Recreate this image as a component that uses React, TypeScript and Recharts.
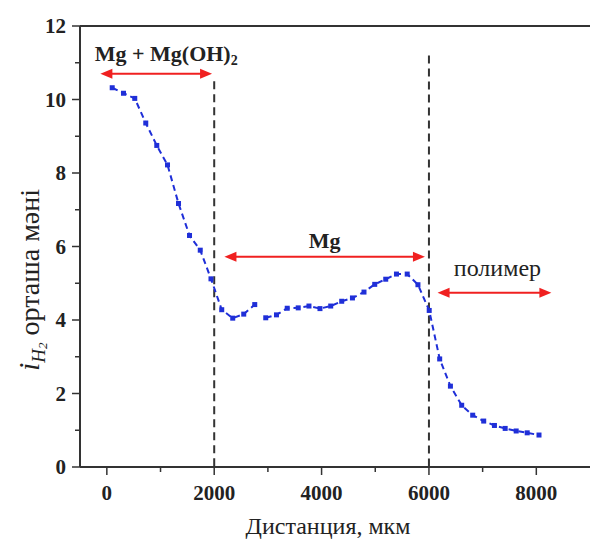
import { LineChart, Line, XAxis, YAxis, ReferenceLine, Label } from "recharts";

// distance, мкм
const distance = [
  100, 310, 520, 725, 930, 1130, 1335, 1540, 1740, 1940, 2140, 2345, 2550, 2755,
  2860, 2960, 3160, 3360, 3565, 3765, 3970, 4170, 4375, 4575, 4790, 4990, 5195,
  5395, 5595, 5795, 6005, 6200, 6400, 6610, 6815, 7020, 7220, 7420, 7625, 7830, 8050,
];
// mean i_H2 (null = break in the curve)
const current = [
  10.32, 10.17, 10.03, 9.36, 8.75, 8.22, 7.17, 6.3, 5.9, 5.12, 4.28, 4.05, 4.16, 4.42,
  null, 4.06, 4.14, 4.32, 4.33, 4.38, 4.31, 4.38, 4.51, 4.6, 4.76, 4.97, 5.11,
  5.25, 5.25, 4.96, 4.26, 2.94, 2.2, 1.68, 1.41, 1.25, 1.13, 1.05, 0.98, 0.93, 0.87,
];

const xTicks = [0, 1000, 2000, 3000, 4000, 5000, 6000, 7000, 8000];
const yTicks = [0, 1, 2, 3, 4, 5, 6, 7, 8, 9, 10, 11, 12];

const data = distance.map((d, i) => ({ d, v: current[i] }));

const SERIF = { fontFamily: "'Liberation Serif', 'Times New Roman', serif" };
const AXIS = "#333";
const BLUE = "#1f2fd8";
const RED = "#f02020";

function XTick({ x, y, payload }: any) {
  const major = payload.value % 2000 === 0;
  return (
    <g>
      <line x1={x} x2={x} y1={y} y2={y + (major ? 8 : 5)} stroke={AXIS} strokeWidth={1.5} />
      {major && (
        <text x={x} y={y + 33} textAnchor="middle" style={SERIF} fontWeight="bold" fontSize={21} fill="#222">
          {payload.value}
        </text>
      )}
    </g>
  );
}

function YTick({ x, y, payload }: any) {
  const major = payload.value % 2 === 0;
  return (
    <g>
      <line x1={x} x2={x - (major ? 8 : 5)} y1={y} y2={y} stroke={AXIS} strokeWidth={1.5} />
      {major && (
        <text x={x - 14} y={y + 7} textAnchor="end" style={SERIF} fontWeight="bold" fontSize={21} fill="#222">
          {payload.value}
        </text>
      )}
    </g>
  );
}

function SquareDot({ cx, cy, value }: any) {
  if (value == null || cx == null || cy == null) return null;
  return <rect x={cx - 2.5} y={cy - 2.5} width={5} height={5} fill={BLUE} />;
}

function arrow(label: any, dx: number, dy: number, size = 20) {
  return (p: any) => {
    const { x1, y1, x2, y2 } = p;
    const h = 12;
    const w = 5;
    return (
      <g>
        <line x1={x1 + h - 2} y1={y1} x2={x2 - h + 2} y2={y2} stroke={RED} strokeWidth={2} />
        <polygon points={`${x1},${y1} ${x1 + h},${y1 - w} ${x1 + h},${y1 + w}`} fill={RED} />
        <polygon points={`${x2},${y2} ${x2 - h},${y2 - w} ${x2 - h},${y2 + w}`} fill={RED} />
        <text x={(x1 + x2) / 2 + dx} y={y1 + dy} textAnchor="middle" style={SERIF} fontSize={size} fill="#222">
          {label}
        </text>
      </g>
    );
  };
}

export default function App() {
  return (
    <div style={{ position: "absolute", left: 0, top: 0, width: 590, height: 539, background: "#fff" }}>
      <LineChart width={590} height={539} data={data} margin={{ top: 26, right: 0, left: 0, bottom: 0 }}>
        <XAxis
          dataKey="d"
          type="number"
          domain={[-500, 9000]}
          ticks={xTicks}
          height={72}
          tickSize={0}
          tickMargin={0}
          tick={<XTick />}
          axisLine={{ stroke: AXIS, strokeWidth: 2 }}
          tickLine={false}
          interval={0}
        >
          <Label
            content={() => (
              <text x={328} y={534} textAnchor="middle" style={SERIF} fontSize={24} fill="#222">
                Дистанция, мкм
              </text>
            )}
          />
        </XAxis>
        <YAxis
          type="number"
          domain={[0, 12]}
          ticks={yTicks}
          width={80}
          tickSize={0}
          tickMargin={0}
          tick={<YTick />}
          axisLine={{ stroke: AXIS, strokeWidth: 2 }}
          tickLine={false}
          interval={0}
        >
          <Label
            content={() => (
              <text
                x={39}
                y={280}
                transform="rotate(-90 39 280)"
                textAnchor="middle"
                style={SERIF}
                fontSize={28}
                fill="#222"
              >
                <tspan fontStyle="italic" fontSize={30}>i</tspan>
                <tspan fontStyle="italic" fontSize={19} dy={6}>H</tspan>
                <tspan fontStyle="italic" fontSize={13} dy={2}>2</tspan>
                <tspan dy={-8}> орташа мәні</tspan>
              </text>
            )}
          />
        </YAxis>
        <ReferenceLine y={12} stroke={AXIS} strokeWidth={2} />
        <ReferenceLine
          segment={[{ x: 2000, y: 10.5 }, { x: 2000, y: 0 }]}
          stroke="#333"
          strokeWidth={2}
          strokeDasharray="8 5"
        />
        <ReferenceLine
          segment={[{ x: 6000, y: 11.2 }, { x: 6000, y: 0 }]}
          stroke="#333"
          strokeWidth={2}
          strokeDasharray="8 5"
        />
        <ReferenceLine
          segment={[{ x: -120, y: 10.7 }, { x: 1960, y: 10.7 }]}
          shape={arrow(
            <tspan fontWeight="bold">
              Mg + Mg(OH)<tspan fontSize={14} dy={4}>2</tspan>
            </tspan>,
            10,
            -13,
            22
          )}
        />
        <ReferenceLine
          segment={[{ x: 2190, y: 5.72 }, { x: 5925, y: 5.72 }]}
          shape={arrow(<tspan fontWeight="bold">Mg</tspan>, 0, -9, 22)}
        />
        <ReferenceLine
          segment={[{ x: 6160, y: 4.74 }, { x: 8280, y: 4.74 }]}
          shape={arrow("полимер", 3, -17, 24)}
        />
        <Line
          dataKey="v"
          stroke={BLUE}
          strokeWidth={2}
          strokeDasharray="6 4"
          dot={<SquareDot />}
          activeDot={false}
          isAnimationActive={false}
          connectNulls={false}
        />
      </LineChart>
    </div>
  );
}
